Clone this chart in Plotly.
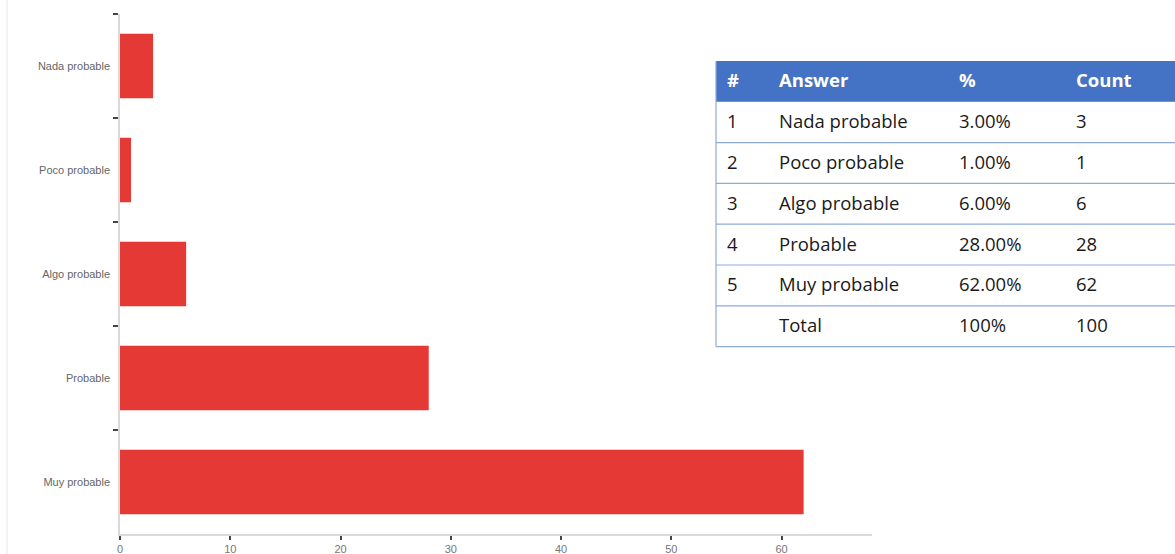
import plotly.graph_objects as go

# ---- data ----
categories = ["Nada probable", "Poco probable", "Algo probable", "Probable", "Muy probable"]
counts = [3, 1, 6, 28, 62]
row_nums = ["1", "2", "3", "4", "5", ""]
row_answers = categories + ["Total"]
row_pcts = ["3.00%", "1.00%", "6.00%", "28.00%", "62.00%", "100%"]
row_counts = ["3", "1", "6", "28", "62", "100"]
header = ["#", "Answer", "%", "Count"]
x_ticks = [0, 10, 20, 30, 40, 50, 60]

W, H = 1175, 554


def px(x):
    return x / W


def py(y):
    return 1 - y / H


fig = go.Figure()
fig.add_trace(go.Bar(
    y=categories, x=counts, orientation="h",
    marker=dict(color="#e53935", line=dict(width=0)),
    width=0.62, showlegend=False, hoverinfo="x+y",
))

fig.update_layout(
    width=W, height=H,
    margin=dict(l=0, r=0, t=0, b=0),
    paper_bgcolor="white", plot_bgcolor="white",
    font=dict(family="Liberation Sans, Arial", size=11, color="#666666"),
    xaxis=dict(
        domain=[px(120), px(872)], range=[0, 68.2],
        tickvals=x_ticks, ticks="outside", ticklen=4, tickcolor="#444444", tickwidth=1.5,
        showline=True, linecolor="#d9d9d9", linewidth=1.5,
        showgrid=False, zeroline=False, automargin=False,
        tickfont=dict(size=11, color="#777777"),
    ),
    yaxis=dict(
        domain=[py(534), py(14)],
        categoryorder="array", categoryarray=categories, autorange="reversed",
        ticks="outside", tickson="boundaries", ticklen=5, tickcolor="#444444", tickwidth=1.5,
        ticklabelstandoff=6,
        showline=True, linecolor="#d9d9d9", linewidth=1.5,
        showgrid=False, zeroline=False, automargin=False,
        tickfont=dict(size=11, color="#666666"),
    ),
)

# faint frame line at far left
shapes = [dict(type="line", xref="paper", yref="paper", x0=px(7), x1=px(7), y0=py(0), y1=py(554),
               line=dict(color="#e6e6e6", width=1))]

# ---- table ----
t_left, t_right, t_top, row_h = 716, 1175, 61, 40.8
col_x = [724.5, 776.5, 956.5, 1073.5]
n_rows = len(row_answers)

shapes.append(dict(type="rect", xref="paper", yref="paper",
                   x0=px(t_left), x1=px(t_right), y0=py(t_top), y1=py(t_top + row_h),
                   fillcolor="#4472c4", line=dict(width=0), layer="above"))
for i in range(n_rows):
    yb = t_top + row_h * (i + 2)
    shapes.append(dict(type="line", xref="paper", yref="paper",
                       x0=px(t_left), x1=px(t_right), y0=py(yb), y1=py(yb),
                       line=dict(color="#8eaadb", width=1.2)))
shapes.append(dict(type="line", xref="paper", yref="paper",
                   x0=px(t_left), x1=px(t_left), y0=py(t_top), y1=py(t_top + row_h * (n_rows + 1)),
                   line=dict(color="#8eaadb", width=1.2)))

annotations = []
tfont = "Open Sans, Liberation Sans, Arial"
for j, h in enumerate(header):
    annotations.append(dict(xref="paper", yref="paper", x=px(col_x[j]), y=py(t_top + row_h / 2 - 1.5),
                            text="<b>%s</b>" % h, showarrow=False, xanchor="left", yanchor="middle",
                            font=dict(family=tfont, size=18.5, color="white")))
for i in range(n_rows):
    yc = t_top + row_h * (i + 1) + row_h / 2 - 1.5
    for j, val in enumerate([row_nums[i], row_answers[i], row_pcts[i], row_counts[i]]):
        if val == "":
            continue
        annotations.append(dict(xref="paper", yref="paper", x=px(col_x[j]), y=py(yc),
                                text=val, showarrow=False, xanchor="left", yanchor="middle",
                                font=dict(family=tfont, size=18.5, color="#1a1a1a")))

fig.update_layout(shapes=shapes, annotations=annotations)
fig.write_html("out.html")
